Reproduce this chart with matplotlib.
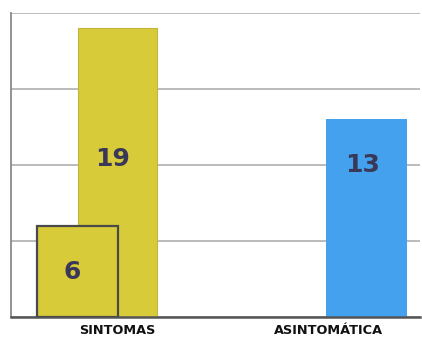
import matplotlib
matplotlib.use("Agg")
import matplotlib.pyplot as plt

# Data
categories = ["SINTOMAS", "ASINTOMÁTICA"]
totals = [19, 13]
subset_values = [6]          # subgroup shown in front of the SINTOMAS bar
y_ticks = [0, 5, 10, 15, 20]

yellow = "#d8cb3a"
blue = "#44a1ee"
text_dark = "#3a3858"

fig = plt.figure(figsize=(4.22, 3.40), dpi=100)
W, H = 422, 340
ax = fig.add_axes([11 / W, (H - 317) / H, (420 - 11) / W, (317 - 13) / H])

ax.set_ylim(0, 20)
ax.set_xlim(-0.4257, 1.216)

# Gridlines
ax.set_yticks(y_ticks)
ax.yaxis.grid(True, color="#a8a8a8", linewidth=1.1)
ax.set_axisbelow(True)
ax.tick_params(axis="y", length=0, labelleft=False)

# Main bars
ax.bar([0], [totals[0]], width=0.317, color=yellow, edgecolor="#c2b53a",
       linewidth=0.8, zorder=2)
ax.bar([1], [totals[1]], width=0.325, color=blue, edgecolor=blue,
       linewidth=0, zorder=2)
# Subgroup bar drawn in front
ax.bar([-0.159], subset_values, width=0.325, color=yellow, edgecolor="#4a4a4a",
       linewidth=1.6, zorder=3)

# Value labels
label_kw = dict(ha="center", va="center", fontsize=18, fontweight="heavy",
                color=text_dark, zorder=4)
ax.text(-0.02, 20 - (159 - 13) / 15.2, str(totals[0]), **label_kw)
ax.text(-0.18, 20 - (272 - 13) / 15.2, str(subset_values[0]), **label_kw)
ax.text(0.985, 20 - (165 - 13) / 15.2, str(totals[1]), **label_kw)

# Category labels
ax.set_xticks([0.002, 0.85])
ax.set_xticklabels(categories, fontsize=9.3, fontweight="heavy", color="#111111")
ax.tick_params(axis="x", length=0, pad=5)

# Spines
for s in ["top", "right"]:
    ax.spines[s].set_visible(False)
ax.spines["left"].set_color("#8a8a8a")
ax.spines["left"].set_linewidth(1.3)
ax.spines["bottom"].set_color("#555555")
ax.spines["bottom"].set_linewidth(1.8)

fig.savefig("out.png", dpi=100)
